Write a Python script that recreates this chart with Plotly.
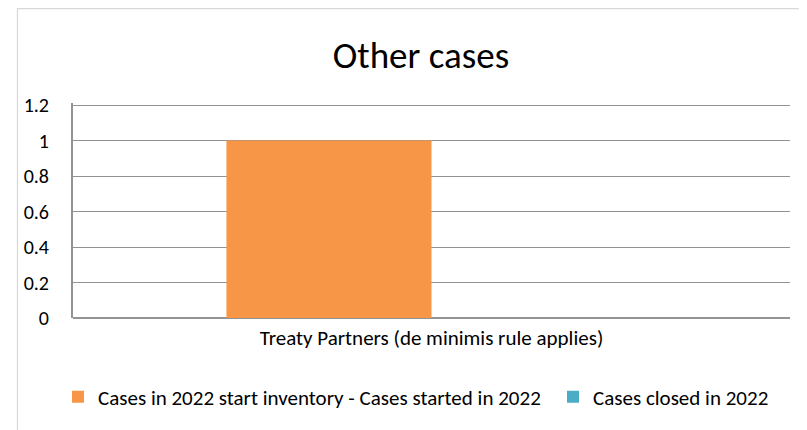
import plotly.graph_objects as go

categories = ["Treaty Partners (de minimis rule applies)"]
series_names = ["Cases in 2022 start inventory - Cases started in 2022", "Cases closed in 2022"]
series_start_minus_started = [1]
series_closed = [0]
colors = ["#F79646", "#4BACC6"]
y_ticks = [0, 0.2, 0.4, 0.6, 0.8, 1.0, 1.2]
y_ticktext = ["0", "0.2", "0.4", "0.6", "0.8", "1", "1.2"]

OFF = 8  # default page body margin
W, H = 807 - OFF, 430 - OFF
L, R, T, B = 73 - OFF, 790 - OFF, 103 - OFF, 318 - OFF
pw, ph = R - L, B - T
Y_TOP = y_ticks[-1] * (318 - 103) / (318 - 105)  # gridline 1.2 sits 2px below the plot top

def px_x(x):
    return (x - OFF - L) / pw

def px_y(y):
    return (B - (y - OFF)) / ph

FONT = "Carlito, Lato, 'Liberation Sans', sans-serif"
GRID = "#939393"

fig = go.Figure()
fig.add_trace(go.Bar(x=categories, y=series_start_minus_started, name=series_names[0],
                     marker=dict(color=colors[0], line=dict(width=0)), legend="legend"))
fig.add_trace(go.Bar(x=categories, y=series_closed, name=series_names[1],
                     marker=dict(color=colors[1], line=dict(width=0)), legend="legend2"))

legend_common = dict(orientation="h", xanchor="left", yanchor="middle", y=px_y(397),
                     font=dict(size=21, family=FONT), bgcolor="rgba(0,0,0,0)")

fig.update_layout(
    width=W, height=H,
    margin=dict(l=L, r=W - R, t=T, b=H - B, autoexpand=False),
    paper_bgcolor="white", plot_bgcolor="white",
    barmode="group", bargap=0.428, bargroupgap=0,
    font=dict(family=FONT, color="#000000", size=21),
    title=dict(text="Other cases", x=(421 - OFF) / W, xanchor="center", y=1 - (55 - OFF) / H, yanchor="middle",
               xref="container", yref="container", font=dict(size=37, family=FONT, color="#000000")),
    showlegend=True,
    legend=dict(x=px_x(58), **legend_common),
    legend2=dict(x=px_x(553), **legend_common),
    xaxis=dict(showgrid=False, showline=False, zeroline=False, ticks="", ticklabelstandoff=5,
               tickfont=dict(size=21)),
    yaxis=dict(range=[0, Y_TOP], tickvals=y_ticks, ticktext=y_ticktext,
               showgrid=True, gridcolor=GRID, gridwidth=1.2,
               zeroline=True, zerolinecolor=GRID, zerolinewidth=1.5,
               showline=True, linecolor=GRID, linewidth=2, ticks="", ticklabelstandoff=18,
               tickfont=dict(size=20)),
    shapes=[
        dict(type="rect", xref="paper", yref="paper",
             x0=px_x(17.5), x1=px_x(840), y0=px_y(8.5), y1=px_y(460),
             line=dict(color="#D9D9D9", width=1.3), fillcolor="rgba(0,0,0,0)", layer="below"),
    ],
)

fig.write_html("out.html")
